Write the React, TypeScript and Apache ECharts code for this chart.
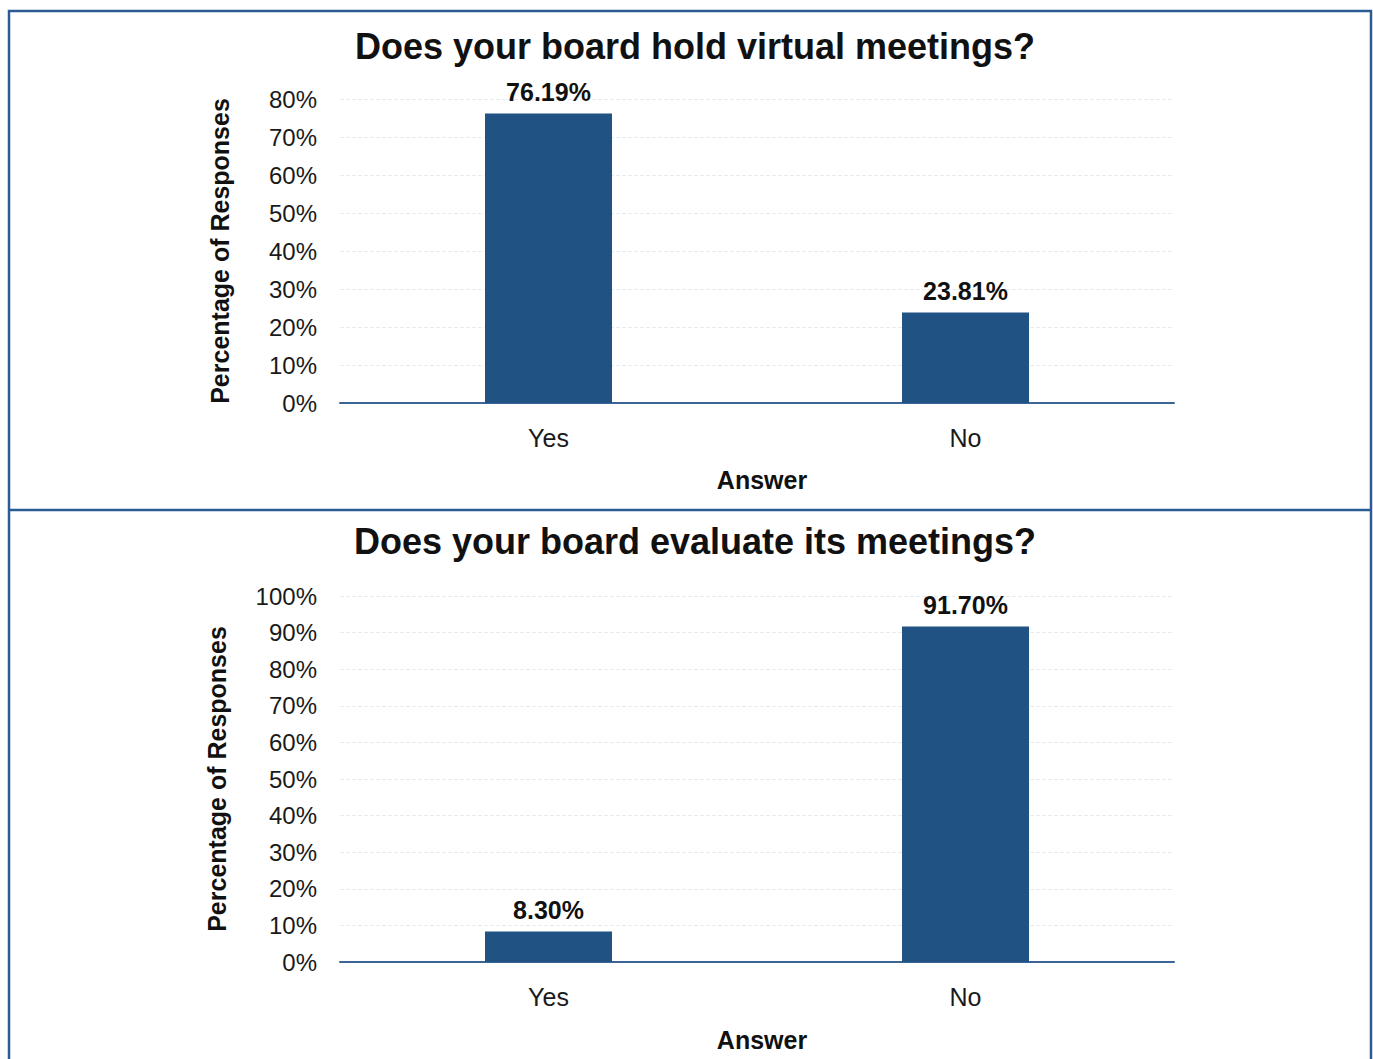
import React, { useEffect, useRef } from "react";
import * as echarts from "echarts";

const categories = ["Yes", "No"];
const virtualValues = [76.19, 23.81];
const evaluateValues = [8.3, 91.7];
const titles = ["Does your board hold virtual meetings?", "Does your board evaluate its meetings?"];
const yAxisName = "Percentage of Responses";
const xAxisName = "Answer";

const FONT = "'Liberation Sans', Arial, sans-serif";
const BAR = "#215284";
const AXIS = "#3a6596";
const BORDER = "#2a5b94";

export default function App() {
  const ref = useRef<HTMLDivElement>(null);
  useEffect(() => {
    if (!ref.current) return;
    const chart = echarts.init(ref.current, null, { renderer: "svg" });
    const yAxisCommon = (gridIndex: number, max: number, nameGap: number) => ({
      type: "value" as const,
      gridIndex,
      min: 0,
      max,
      interval: 10,
      name: yAxisName,
      nameLocation: "middle" as const,
      nameGap,
      nameTextStyle: { fontFamily: FONT, fontWeight: "bold", fontSize: 25, color: "#111" },
      axisLabel: { formatter: "{value}%", fontFamily: FONT, fontSize: 24, color: "#1a1a1a", margin: 23 },
      axisLine: { show: false },
      axisTick: { show: false },
      splitLine: { show: true, lineStyle: { color: "#e8ebef", type: "dashed", width: 1 } },
    });
    const xAxisCommon = (gridIndex: number, nameGap: number) => ({
      type: "category" as const,
      gridIndex,
      data: categories,
      name: xAxisName,
      nameLocation: "middle" as const,
      nameGap,
      nameTextStyle: { fontFamily: FONT, fontWeight: "bold", fontSize: 25, color: "#111", padding: [0, 0, 0, 10] },
      axisLabel: { fontFamily: FONT, fontSize: 25, color: "#1a1a1a", margin: 22 },
      axisLine: { show: true, lineStyle: { color: AXIS, width: 2 } },
      axisTick: { show: false },
    });
    const labelCommon = {
      show: true,
      position: "top" as const,
      distance: 9,
      fontFamily: FONT,
      fontWeight: "bold" as const,
      fontSize: 25,
      color: "#111",
      formatter: (p: any) => Number(p.value).toFixed(2) + "%",
    };
    chart.setOption({
      animation: false,
      backgroundColor: "#ffffff",
      title: [
        {
          text: titles[0],
          left: 690,
          textAlign: "center",
          top: 23,
          textStyle: { fontFamily: FONT, fontWeight: "bold", fontSize: 36, color: "#111" },
        },
        {
          text: titles[1],
          left: 690,
          textAlign: "center",
          top: 518,
          textStyle: { fontFamily: FONT, fontWeight: "bold", fontSize: 36, color: "#111" },
        },
      ],
      grid: [
        { left: 340, width: 834, top: 99, height: 304 },
        { left: 340, width: 834, top: 596, height: 366 },
      ],
      xAxis: [xAxisCommon(0, 64), xAxisCommon(1, 65)],
      yAxis: [yAxisCommon(0, 80, 108), yAxisCommon(1, 100, 111)],
      series: [
        {
          type: "bar",
          xAxisIndex: 0,
          yAxisIndex: 0,
          data: virtualValues,
          barWidth: 127,
          itemStyle: { color: BAR },
          label: labelCommon,
        },
        {
          type: "bar",
          xAxisIndex: 1,
          yAxisIndex: 1,
          data: evaluateValues,
          barWidth: 127,
          itemStyle: { color: BAR },
          label: labelCommon,
        },
      ],
      graphic: [
        {
          type: "rect",
          shape: { x: 9, y: 11, width: 1362, height: 1070 },
          style: { fill: "none", stroke: BORDER, lineWidth: 2.5 },
          silent: true,
        },
        {
          type: "line",
          shape: { x1: 9, y1: 510, x2: 1371, y2: 510 },
          style: { stroke: BORDER, lineWidth: 2.5 },
          silent: true,
        },
      ],
    });
    return () => chart.dispose();
  }, []);
  return (
    <div
      ref={ref}
      style={{ position: "absolute", left: 0, top: 0, width: 1373, height: 1059, background: "#fff" }}
    />
  );
}
